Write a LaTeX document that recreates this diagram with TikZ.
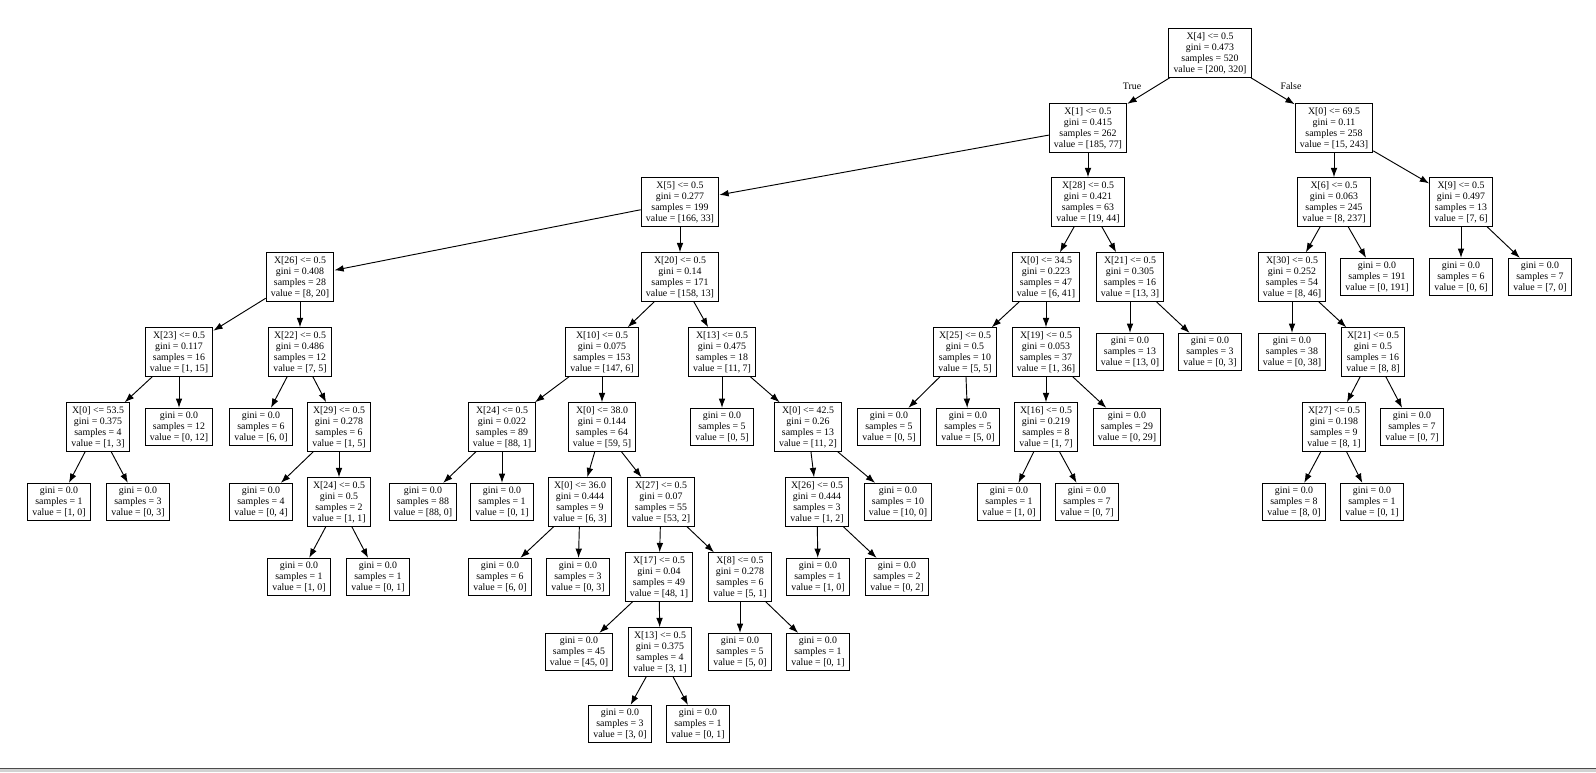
\documentclass[tikz,border=0pt]{standalone}
\usepackage{fontspec}
\setmainfont{Liberation Serif}
\usetikzlibrary{arrows.meta}
\begin{document}
\begin{tikzpicture}[x=0.75pt,y=-0.75pt,
  nd/.style={draw,line width=0.9pt,align=center,font=\fontsize{7.4}{8.25}\selectfont,inner xsep=3.5pt,inner ysep=2.6pt},
  ed/.style={-{Latex[length=7pt,width=5pt]},line width=0.7pt},
  lb/.style={font=\fontsize{7.4}{8.25}\selectfont}]
\useasboundingbox (0,0) rectangle (1596,772);
\fill[gray!35] (0,768) rectangle (1596,772);
\draw[gray!60!black,line width=0.6pt] (0,768) -- (1596,768);
\newcommand{\tleaf}[4]{\node[nd] (#1) at (#2) {gini = 0.0\\samples = #3\\value = #4};}
\newcommand{\tsplit}[6]{\node[nd] (#1) at (#2) {#3\\gini = #4\\samples = #5\\value = #6};}
\tsplit{r}{1210,53}{X[4] <= 0.5}{0.473}{520}{[200, 320]}
\tsplit{A}{1088,128}{X[1] <= 0.5}{0.415}{262}{[185, 77]}
\tsplit{B}{1334,128}{X[0] <= 69.5}{0.11}{258}{[15, 243]}
\tsplit{C}{680,202}{X[5] <= 0.5}{0.277}{199}{[166, 33]}
\tsplit{D}{1088,202}{X[28] <= 0.5}{0.421}{63}{[19, 44]}
\tsplit{E}{300,277}{X[26] <= 0.5}{0.408}{28}{[8, 20]}
\tsplit{F}{680,277}{X[20] <= 0.5}{0.14}{171}{[158, 13]}
\tsplit{G}{179,352}{X[23] <= 0.5}{0.117}{16}{[1, 15]}
\tsplit{H}{300,352}{X[22] <= 0.5}{0.486}{12}{[7, 5]}
\tsplit{I}{98,427}{X[0] <= 53.5}{0.375}{4}{[1, 3]}
\tleaf{J}{179,427}{12}{[0, 12]}
\tleaf{K}{59,502}{1}{[1, 0]}
\tleaf{L}{138,502}{3}{[0, 3]}
\tleaf{M}{261,427}{6}{[6, 0]}
\tsplit{N}{339,427}{X[29] <= 0.5}{0.278}{6}{[1, 5]}
\tleaf{O}{261,502}{4}{[0, 4]}
\tsplit{P}{339,502}{X[24] <= 0.5}{0.5}{2}{[1, 1]}
\tleaf{Q}{299,577}{1}{[1, 0]}
\tleaf{R}{378,577}{1}{[0, 1]}
\tsplit{S}{602,352}{X[10] <= 0.5}{0.075}{153}{[147, 6]}
\tsplit{T}{722,352}{X[13] <= 0.5}{0.475}{18}{[11, 7]}
\tsplit{U}{502,427}{X[24] <= 0.5}{0.022}{89}{[88, 1]}
\tsplit{V}{602,427}{X[0] <= 38.0}{0.144}{64}{[59, 5]}
\tleaf{W}{423,502}{88}{[88, 0]}
\tleaf{X}{502,502}{1}{[0, 1]}
\tsplit{Y}{580,502}{X[0] <= 36.0}{0.444}{9}{[6, 3]}
\tsplit{Z}{661,502}{X[27] <= 0.5}{0.07}{55}{[53, 2]}
\tleaf{a1}{500,577}{6}{[6, 0]}
\tleaf{a2}{578,577}{3}{[0, 3]}
\tsplit{a3}{659,577}{X[17] <= 0.5}{0.04}{49}{[48, 1]}
\tsplit{a4}{740,577}{X[8] <= 0.5}{0.278}{6}{[5, 1]}
\tleaf{a5}{579,652}{45}{[45, 0]}
\tsplit{a6}{660,652}{X[13] <= 0.5}{0.375}{4}{[3, 1]}
\tleaf{a7}{620,724}{3}{[3, 0]}
\tleaf{a8}{698,724}{1}{[0, 1]}
\tleaf{a9}{740,652}{5}{[5, 0]}
\tleaf{a10}{818,652}{1}{[0, 1]}
\tleaf{b1}{722,427}{5}{[0, 5]}
\tsplit{b2}{808,427}{X[0] <= 42.5}{0.26}{13}{[11, 2]}
\tsplit{b3}{817,502}{X[26] <= 0.5}{0.444}{3}{[1, 2]}
\tleaf{b4}{898,502}{10}{[10, 0]}
\tleaf{b5}{818,577}{1}{[1, 0]}
\tleaf{b6}{897,577}{2}{[0, 2]}
\tsplit{c1}{1046,277}{X[0] <= 34.5}{0.223}{47}{[6, 41]}
\tsplit{c2}{1130,277}{X[21] <= 0.5}{0.305}{16}{[13, 3]}
\tsplit{c3}{965,352}{X[25] <= 0.5}{0.5}{10}{[5, 5]}
\tsplit{c4}{1046,352}{X[19] <= 0.5}{0.053}{37}{[1, 36]}
\tleaf{c5}{889,427}{5}{[0, 5]}
\tleaf{c6}{968,427}{5}{[5, 0]}
\tsplit{c7}{1046,427}{X[16] <= 0.5}{0.219}{8}{[1, 7]}
\tleaf{c8}{1127,427}{29}{[0, 29]}
\tleaf{c9}{1009,502}{1}{[1, 0]}
\tleaf{c10}{1087,502}{7}{[0, 7]}
\tleaf{c11}{1130,352}{13}{[13, 0]}
\tleaf{c12}{1210,352}{3}{[0, 3]}
\tsplit{d1}{1334,202}{X[6] <= 0.5}{0.063}{245}{[8, 237]}
\tsplit{d2}{1461,202}{X[9] <= 0.5}{0.497}{13}{[7, 6]}
\tsplit{d3}{1292,277}{X[30] <= 0.5}{0.252}{54}{[8, 46]}
\tleaf{d4}{1377,277}{191}{[0, 191]}
\tleaf{d5}{1292,352}{38}{[0, 38]}
\tsplit{d6}{1373,352}{X[21] <= 0.5}{0.5}{16}{[8, 8]}
\tsplit{d7}{1334,427}{X[27] <= 0.5}{0.198}{9}{[8, 1]}
\tleaf{d8}{1412,427}{7}{[0, 7]}
\tleaf{d9}{1294,502}{8}{[8, 0]}
\tleaf{d10}{1372,502}{1}{[0, 1]}
\tleaf{d11}{1461,277}{6}{[0, 6]}
\tleaf{d12}{1540,277}{7}{[7, 0]}
\foreach \a/\b in {r/A,r/B,A/C,A/D,C/E,C/F,E/G,E/H,G/I,G/J,I/K,I/L,H/M,H/N,N/O,N/P,P/Q,P/R,
  F/S,F/T,S/U,S/V,U/W,U/X,V/Y,V/Z,Y/a1,Y/a2,Z/a3,Z/a4,a3/a5,a3/a6,a6/a7,a6/a8,a4/a9,a4/a10,
  T/b1,T/b2,b2/b3,b2/b4,b3/b5,b3/b6,D/c1,D/c2,c1/c3,c1/c4,c3/c5,c3/c6,c4/c7,c4/c8,c7/c9,c7/c10,
  c2/c11,c2/c12,B/d1,B/d2,d1/d3,d1/d4,d3/d5,d3/d6,d6/d7,d6/d8,d7/d9,d7/d10,d2/d11,d2/d12}
  {\draw[ed] (\a) -- (\b);}
\node[lb] (tl) at (1132,86) {True};
\node[lb] (fl) at (1291,86) {False};
\end{tikzpicture}
\end{document}
